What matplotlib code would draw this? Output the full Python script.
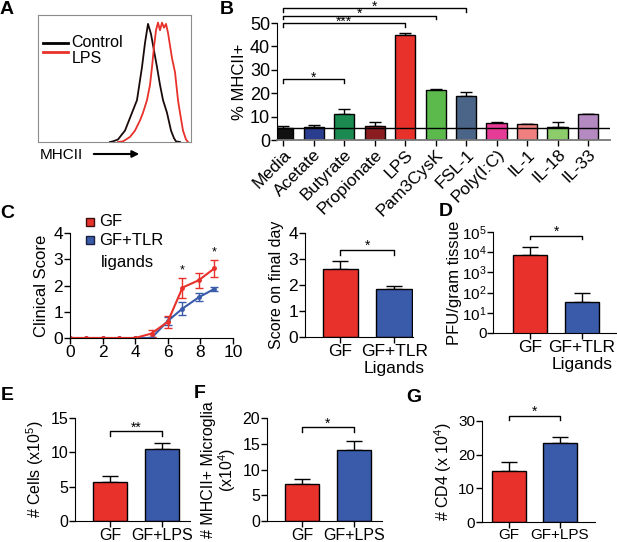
import matplotlib
matplotlib.use("Agg")
import matplotlib.pyplot as plt
import numpy as np

plt.rcParams["font.family"] = ["Liberation Sans", "DejaVu Sans"]
plt.rcParams["mathtext.default"] = "regular"

RED = "#e8312a"
BLUE = "#3a5ba9"

# A: flow histogram traces (arbitrary fluorescence units, % of max)
ctrl_x = [110, 113, 118, 125, 132, 137, 142, 145, 148, 151, 154, 157, 160, 163, 167, 171, 174, 176, 180]
ctrl_y = [0, 0.5, 2, 9, 23, 33, 59, 78, 93, 85, 72, 59, 45, 33, 23, 9, 3, 0.5, 0]
lps_x = [118, 123, 130, 135, 140, 143, 147, 150, 152, 154, 156, 158, 160, 162, 164, 166, 168,
         170, 172, 175, 178, 180, 183, 186, 188]
lps_y = [0, 0.5, 4, 9, 17, 23, 33, 45, 59, 75, 88, 94, 88, 94, 90, 93, 86, 76, 66, 55, 33, 23, 9, 2, 0]

# B: % MHCII+
b_labels = ["Media", "Acetate", "Butyrate", "Propionate", "LPS", "Pam3CysK", "FSL-1",
            "Poly(I:C)", "IL-1", "IL-18", "IL-33"]
b_values = [5.2, 5.5, 11.0, 5.8, 45.0, 21.2, 18.8, 7.4, 6.7, 5.6, 10.9]
b_errors = [0.6, 1.0, 2.3, 2.0, 0.8, 0.8, 1.7, 0.4, 0.2, 1.9, 0.1]
b_colors = ["#111111", "#2b3d8f", "#1a8a50", "#8b1c1f", RED, "#5cba4c", "#4a6587",
            "#e63c98", "#f08080", "#8ccc6a", "#b58ac0"]
b_sig = [(2, "*", 26.0), (4, "***", 50.0), (5, "*", 53.2), (6, "*", 56.2)]

# C: clinical score over time
c_days = [0, 1, 2, 3, 4, 5, 6, 6.9, 7.9, 8.85]
c_gf = [0, 0, 0, 0, 0, 0.17, 0.62, 1.92, 2.2, 2.65]
c_gf_err = [0, 0, 0, 0, 0, 0.12, 0.22, 0.38, 0.28, 0.33]
c_tlr = [0, 0, 0, 0, 0, 0.0, 0.65, 1.12, 1.55, 1.87]
c_tlr_err = [0, 0, 0, 0, 0, 0.03, 0.15, 0.25, 0.15, 0.08]
c_star_days = [6.9, 8.85]
c_star_y = [2.45, 3.15]

# C (right) / D / E / F / G: two-group bars
c_final = [2.62, 1.86]
c_final_err = [0.3, 0.1]
d_pfu = [7200, 34]
d_pfu_err = [11000, 61]
e_cells = [5.7, 10.45]
e_cells_err = [0.85, 0.9]
f_mhc = [7.1, 13.7]
f_mhc_err = [1.1, 1.9]
g_cd4 = [15.1, 23.5]
g_cd4_err = [2.8, 1.6]

W, H = 617, 542
fig = plt.figure(figsize=(W / 100, H / 100), dpi=100)


def add_ax(x0, y0, x1, y1):
    return fig.add_axes([x0 / W, 1 - y1 / H, (x1 - x0) / W, (y1 - y0) / H])


def style(ax, size=12):
    for s in ["top", "right"]:
        ax.spines[s].set_visible(False)
    ax.tick_params(direction="out", length=4, width=1, labelsize=size, pad=1)


def bars2(ax, vals, errs, labels, xlim, log=False):
    x = np.arange(2)
    ax.bar(x, vals, width=0.66, color=[RED, BLUE], edgecolor="black", linewidth=1, zorder=2)
    ax.errorbar(x, vals, yerr=[[0, 0], errs], fmt="none", ecolor="black", elinewidth=1,
                capsize=6, capthick=1, zorder=1)
    ax.set_xticks(x)
    ax.set_xticklabels(labels)
    ax.set_xlim(*xlim)


def bracket(ax, x0, x1, y, drop, star, fs=10, sy=0):
    ax.plot([x0, x0, x1, x1], [y - drop, y, y, y - drop], color="black", lw=1, clip_on=False)
    ax.text((x0 + x1) / 2, y + sy, star, ha="center", va="bottom", fontsize=fs)


def panel(x, y, s):
    fig.text(x / W, 1 - y / H, s, fontsize=14, fontweight="bold", ha="center", va="center")


# ---- A
axA = add_ax(38, 15, 191, 142)
axA.plot(ctrl_x, ctrl_y, color="#1a0a0a", lw=1.3)
axA.plot(lps_x, lps_y, color="#e8312a", lw=1.3)
axA.set_xlim(38, 191)
axA.set_ylim(0, 100)
axA.set_xticks([])
axA.set_yticks([])
for s in axA.spines.values():
    s.set_color("#8c8c8c")
axA.plot([0.033, 0.196], [0.78, 0.78], color="black", lw=2, transform=axA.transAxes)
axA.plot([0.033, 0.196], [0.71, 0.71], color=RED, lw=2, transform=axA.transAxes)
axA.text(0.22, 0.785, "Control", transform=axA.transAxes, va="center", fontsize=11.5)
axA.text(0.22, 0.655, "LPS", transform=axA.transAxes, va="center", fontsize=11.5)
fig.text(40 / W, 1 - 155 / H, "MHCII", fontsize=11, va="center")
fig.add_artist(matplotlib.patches.FancyArrowPatch((91 / W, 1 - 154 / H), (142 / W, 1 - 154 / H),
                                                  transform=fig.transFigure, arrowstyle="-|>",
                                                  mutation_scale=10, lw=1.5, color="black"))
panel(7, 9, "A")

# ---- B
axB = add_ax(277, 23, 610, 140)
style(axB, 13)
xb = np.arange(len(b_labels))
axB.bar(xb, b_values, width=0.66, color=b_colors, edgecolor="black", linewidth=1, zorder=2)
axB.errorbar(xb, b_values, yerr=[np.zeros(len(b_values)), b_errors], fmt="none", ecolor="black",
             elinewidth=1, capsize=4, capthick=1, zorder=1)
axB.axhline(b_values[0], color="black", lw=1, zorder=3)
axB.set_ylim(0, 50)
axB.set_xlim(-0.2, 10.72)
axB.set_yticks([0, 10, 20, 30, 40, 50])
axB.set_xticks(xb)
axB.set_xticklabels(b_labels, rotation=45, ha="right", rotation_mode="anchor", fontsize=12.5)
axB.spines["bottom"].set_color("#777777")
axB.spines["bottom"].set_linewidth(1.3)
axB.set_ylabel("% MHCII+", fontsize=12, labelpad=2)
for i, star, y in b_sig:
    bracket(axB, 0, i, y, 1.6, star, fs=10, sy=-2.4)
panel(227, 10, "B")

# ---- C line
axC = add_ax(70, 233, 233, 338)
style(axC, 12.5)
axC.errorbar(c_days, c_tlr, yerr=c_tlr_err, color=BLUE, lw=1.5, marker="o", ms=2.5,
             capsize=3, elinewidth=1)
axC.errorbar(c_days, c_gf, yerr=c_gf_err, color=RED, lw=1.5, marker="o", ms=2.5,
             capsize=3, elinewidth=1)
for d, y in zip(c_star_days, c_star_y):
    axC.text(d, y - 0.12, "*", ha="center", va="bottom", fontsize=9)
axC.set_xlim(0, 10)
axC.set_ylim(0, 4)
axC.set_xticks([0, 2, 4, 6, 8, 10])
axC.set_yticks([0, 1, 2, 3, 4])
axC.set_ylabel("Clinical Score", fontsize=12, labelpad=3)
axC.plot([0.123], [1.105], marker="s", ms=6, color=RED, mec="#3a1010", transform=axC.transAxes,
         clip_on=False)
axC.plot([0.123], [0.933], marker="s", ms=6, color=BLUE, mec="#1a2040", transform=axC.transAxes,
         clip_on=False)
axC.text(0.18, 1.105, "GF", transform=axC.transAxes, va="center", fontsize=12)
axC.text(0.18, 0.933, "GF+TLR", transform=axC.transAxes, va="center", fontsize=12)
axC.text(0.19, 0.72, "ligands", transform=axC.transAxes, va="center", fontsize=12)
panel(7, 214, "C")

# ---- C bar
axC2 = add_ax(305, 233, 413, 337)
style(axC2, 12.5)
bars2(axC2, c_final, c_final_err, ["GF", "GF+TLR\nLigands"], (-0.66, 1.35))
axC2.set_ylim(0, 4)
axC2.set_yticks([0, 1, 2, 3, 4])
axC2.set_ylabel("Score on final day", fontsize=11.5, labelpad=3)
bracket(axC2, 0, 1, 3.35, 0.2, "*", fs=10, sy=-0.12)

# ---- D
axD = add_ax(493, 232, 617, 333)
style(axD, 11)
bars2(axD, d_pfu, d_pfu_err, ["GF", "GF+TLR\nLigands"], (-0.71, 1.67))
axD.tick_params(axis="x", labelsize=12.5)
axD.set_yscale("log")
axD.set_ylim(1, 1e5)
axD.set_yticks([1, 10, 100, 1e3, 1e4, 1e5])
axD.set_yticklabels(["0", "$10^1$", "$10^2$", "$10^3$", "$10^4$", "$10^5$"])
axD.tick_params(axis="y", which="minor", length=2, width=0.8)
axD.tick_params(axis="y", which="major", pad=0.5)
axD.set_ylabel("PFU/gram tissue", fontsize=12, labelpad=0)
bracket(axD, 0, 1, 63000, 20000, "*", fs=10, sy=-15000)
panel(446, 212, "D")

# ---- E
axE = add_ax(75, 418, 190, 521)
style(axE, 11.5)
bars2(axE, e_cells, e_cells_err, ["GF", "GF+LPS"], (-0.68, 1.55))
axE.set_ylim(0, 15)
axE.set_yticks([0, 5, 10, 15])
axE.set_ylabel("# Cells (x10$^5$)", fontsize=11.5, labelpad=3)
bracket(axE, 0, 1, 13.1, 0.7, "**", fs=10, sy=-0.5)
panel(7, 396, "E")

# ---- F
axF = add_ax(267, 418, 382, 521)
style(axF, 11.5)
bars2(axF, f_mhc, f_mhc_err, ["GF", "GF+LPS"], (-0.68, 1.55))
axF.set_ylim(0, 20)
axF.set_yticks([0, 5, 10, 15, 20])
axF.set_ylabel("# MHCII+ Microglia\n(x10$^4$)", fontsize=11.5, labelpad=3, linespacing=1.0)
bracket(axF, 0, 1, 18.2, 0.9, "*", fs=10, sy=-0.6)
panel(200, 394, "F")

# ---- G
axG = add_ax(482, 421, 595, 522)
style(axG, 11)
axG.tick_params(axis="x", pad=0)
bars2(axG, g_cd4, g_cd4_err, ["GF", "GF+LPS"], (-0.53, 1.69))
axG.set_ylim(0, 30)
axG.set_yticks([0, 10, 20, 30])
axG.set_ylabel("# CD4 (x 10$^4$)", fontsize=11.5, labelpad=3)
bracket(axG, 0, 1, 31.5, 1.3, "*", fs=10, sy=-0.9)
panel(414, 397, "G")

fig.savefig("out.png", dpi=100)
